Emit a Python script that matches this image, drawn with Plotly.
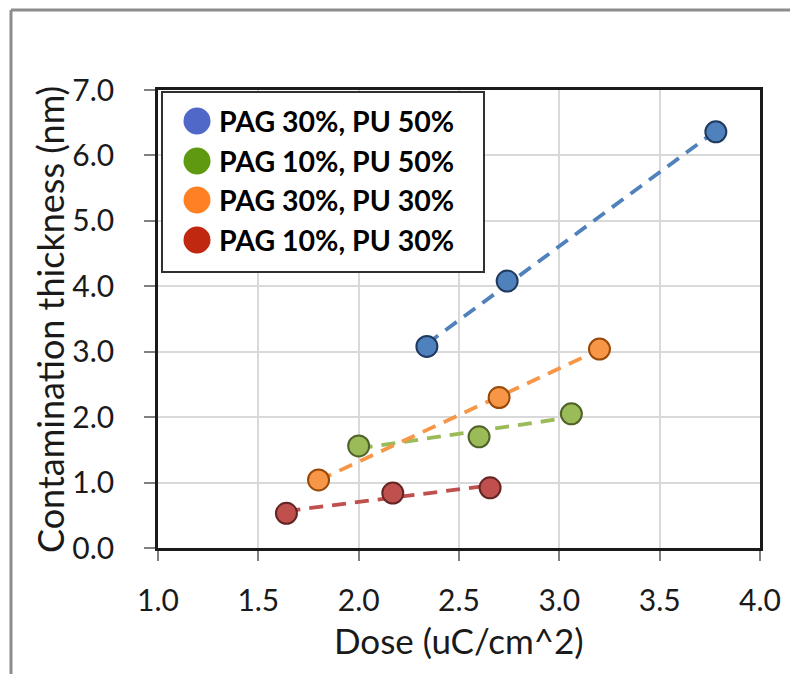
import numpy as np
import plotly.graph_objects as go

series_names = ["PAG 30%, PU 50%", "PAG 10%, PU 50%", "PAG 30%, PU 30%", "PAG 10%, PU 30%"]
dose_pag30_pu50 = [2.34, 2.74, 3.78]
thk_pag30_pu50 = [3.08, 4.08, 6.36]
dose_pag10_pu50 = [2.00, 2.60, 3.06]
thk_pag10_pu50 = [1.56, 1.70, 2.05]
dose_pag30_pu30 = [1.80, 2.70, 3.20]
thk_pag30_pu30 = [1.04, 2.30, 3.04]
dose_pag10_pu30 = [1.64, 2.17, 2.655]
thk_pag10_pu30 = [0.53, 0.84, 0.92]

x_ticks = [1.0, 1.5, 2.0, 2.5, 3.0, 3.5, 4.0]
y_ticks = [0, 1, 2, 3, 4, 5, 6, 7]

xs = [dose_pag30_pu50, dose_pag10_pu50, dose_pag30_pu30, dose_pag10_pu30]
ys = [thk_pag30_pu50, thk_pag10_pu50, thk_pag30_pu30, thk_pag10_pu30]
fill_colors = ["#4F81BD", "#9BBB59", "#F79646", "#C0504D"]
edge_colors = ["#1F3A5F", "#4F6228", "#984807", "#632523"]
legend_colors = ["#5068C8", "#5F9910", "#FF8124", "#C0280F"]

FONT = "Lato"
fig = go.Figure()

for x, y, fc, ec, name in zip(xs, ys, fill_colors, edge_colors, series_names):
    x = np.array(x); y = np.array(y)
    m, b = np.polyfit(x, y, 1)
    xl = np.array([x.min(), x.max()])
    fig.add_trace(go.Scatter(x=xl, y=m * xl + b, mode="lines",
                             line=dict(color=fc, width=3.8, dash="14px,9px"),
                             showlegend=False, hoverinfo="skip"))
for x, y, fc, ec, name in zip(xs, ys, fill_colors, edge_colors, series_names):
    fig.add_trace(go.Scatter(x=x, y=y, mode="markers", name=name,
                             marker=dict(size=21, color=fc, line=dict(color=ec, width=2)),
                             showlegend=False))

OFF = 8  # page body margin
W, H = 798 - OFF, 674 - OFF
# plot area in reference page pixels: x 158..760, y 90..548
L, R, T, B = 158 - OFF, 760 - OFF, 90 - OFF, 548 - OFF
def px(xp): return (xp - OFF - L) / (R - L)
def py(yp): return 1 - (yp - OFF - T) / (B - T)

shapes = []
shapes.append(dict(type="line", xref="paper", yref="paper", x0=px(11), x1=px(11), y0=py(720), y1=py(10),
                   line=dict(color="#8C8C8C", width=3), layer="above"))
shapes.append(dict(type="line", xref="paper", yref="paper", x0=px(11), x1=px(840), y0=py(10), y1=py(10),
                   line=dict(color="#8C8C8C", width=3), layer="above"))
shapes.append(dict(type="rect", xref="paper", yref="paper", x0=px(162), x1=px(484), y0=py(272), y1=py(92),
                   fillcolor="white", line=dict(color="#303030", width=2), layer="above"))

annotations = []
leg_y = [121, 161, 200, 240]
for name, col, yy in zip(series_names, legend_colors, leg_y):
    shapes.append(dict(type="circle", xref="paper", yref="paper", xsizemode="pixel", ysizemode="pixel",
                       xanchor=px(197), yanchor=py(yy), x0=-13.5, x1=13.5, y0=-13.5, y1=13.5,
                       fillcolor=col, line=dict(width=0), layer="above"))
    annotations.append(dict(xref="paper", yref="paper", x=px(217), y=py(yy), text="<b>%s</b>" % name,
                            showarrow=False, xanchor="left", yanchor="middle",
                            font=dict(family=FONT, size=28.5, color="black")))

annotations.append(dict(xref="paper", yref="paper", x=px(459), y=py(640), text="Dose (uC/cm^2)",
                        showarrow=False, xanchor="center", yanchor="middle",
                        font=dict(family=FONT, size=35, color="#1a1a1a")))
annotations.append(dict(xref="paper", yref="paper", x=px(50), y=py(320), text="Contamination thickness (nm)",
                        showarrow=False, xanchor="center", yanchor="middle", textangle=-90,
                        font=dict(family=FONT, size=36, color="#1a1a1a")))

fig.update_layout(
    width=W, height=H,
    margin=dict(l=L, r=W - R, t=T, b=H - B),
    paper_bgcolor="white", plot_bgcolor="white",
    showlegend=False,
    font=dict(family=FONT, size=30, color="#1a1a1a"),
    shapes=shapes, annotations=annotations,
    xaxis=dict(range=[1.0, 4.0], tickvals=x_ticks, ticktext=["%.1f" % v for v in x_ticks],
               showgrid=True, gridcolor="#D9D9D9", gridwidth=1.5,
               showline=True, linecolor="#1a1a1a", linewidth=2.5, mirror=True,
               ticks="outside", ticklen=10, tickcolor="#808080", tickwidth=1.5,
               zeroline=False, ticklabelstandoff=14,
               tickfont=dict(family=FONT, size=30)),
    yaxis=dict(range=[0, 7.0], tickvals=y_ticks, ticktext=["%.1f" % v for v in y_ticks],
               showgrid=True, gridcolor="#D9D9D9", gridwidth=1.5,
               showline=True, linecolor="#1a1a1a", linewidth=2.5, mirror=True,
               ticks="outside", ticklen=11, tickcolor="#808080", tickwidth=1.5,
               zeroline=False, ticklabelstandoff=24,
               tickfont=dict(family=FONT, size=30)),
)

fig.write_html("out.html")
